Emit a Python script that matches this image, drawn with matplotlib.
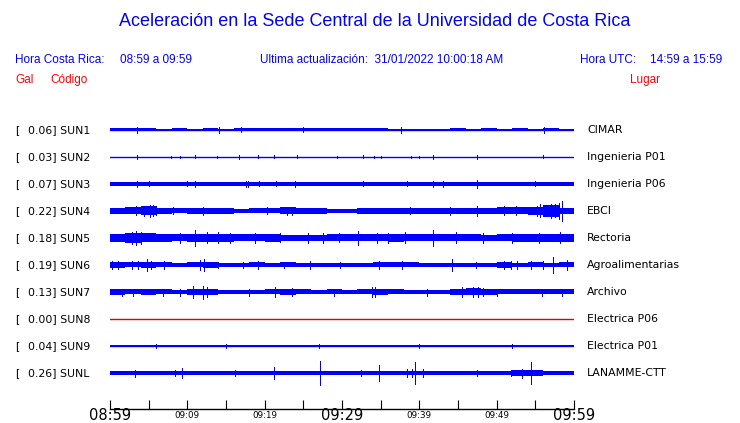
import numpy as np
import matplotlib
matplotlib.use("Agg")
import matplotlib.pyplot as plt
from matplotlib.transforms import blended_transform_factory

# Estaciones y valores máximos (gal)
codigos = ['SUN1', 'SUN2', 'SUN3', 'SUN4', 'SUN5', 'SUN6', 'SUN7', 'SUN8', 'SUN9', 'SUNL']
gal = [0.06, 0.03, 0.07, 0.22, 0.18, 0.19, 0.13, 0.00, 0.04, 0.26]
lugares = ['CIMAR', 'Ingenieria P01', 'Ingenieria P06', 'EBCI', 'Rectoria',
           'Agroalimentarias', 'Archivo', 'Electrica P06', 'Electrica P01', 'LANAMME-CTT']

# Envolvente de cada traza por tramos de 2 minutos (semiamplitud en px)
env = {
    'SUN1': [1.5, 1.5, 1.5, 1.4, 1.5, 0.8, 1.5, 1.0, 1.5, 1.5, 1.5, 1.5, 1.5, 1.5, 1.5,
             1.5, 1.5, 1.5, 1.0, 1.0, 1.0, 1.0, 1.5, 1.4, 1.5, 1.4, 1.5, 0.8, 1.5, 0.6],
    'SUN2': [0.0] * 30,
    'SUN3': [2.0, 1.9, 1.9, 1.9, 1.9, 1.9, 1.9, 1.9, 1.9, 1.9, 1.9, 1.9, 1.9, 1.9, 1.9,
             1.9, 1.9, 1.9, 1.9, 1.9, 1.9, 1.9, 1.9, 1.9, 1.9, 1.9, 1.9, 1.9, 1.9, 2.0],
    'SUN4': [3.0, 3.5, 4.5, 3.0, 2.5, 3.0, 3.0, 3.0, 2.2, 2.5, 2.5, 3.5, 3.0, 2.8, 2.2,
             2.2, 2.8, 3.0, 3.0, 3.0, 3.0, 3.0, 3.2, 3.3, 3.3, 3.5, 3.5, 4.0, 6.0, 3.0],
    'SUN5': [3.8, 4.8, 4.5, 3.8, 3.5, 4.0, 4.2, 3.8, 3.5, 3.5, 3.8, 3.4, 3.2, 3.2, 3.5,
             3.5, 3.5, 3.5, 3.8, 3.5, 3.5, 3.5, 3.5, 3.5, 3.4, 3.5, 4.0, 4.0, 4.0, 3.8],
    'SUN6': [3.0, 2.5, 2.8, 2.5, 2.0, 2.5, 3.0, 2.0, 2.0, 2.5, 2.2, 2.5, 2.2, 2.0, 2.0,
             2.2, 2.0, 2.5, 2.5, 2.5, 2.0, 2.0, 2.0, 2.0, 2.2, 2.8, 2.2, 2.5, 2.2, 2.5],
    'SUN7': [2.8, 2.5, 2.8, 2.5, 2.2, 3.0, 3.2, 2.2, 2.2, 2.2, 2.5, 2.8, 2.5, 2.2, 2.5,
             2.2, 2.5, 3.0, 2.5, 2.2, 2.2, 2.2, 3.0, 3.5, 2.8, 2.5, 2.5, 2.5, 2.5, 2.5],
    'SUN8': [0.0] * 30,
    'SUN9': [1.3, 1.3, 0.6, 1.3, 1.3, 1.3, 1.3, 1.3, 1.3, 1.3, 1.3, 1.3, 1.3, 1.3, 1.3,
             1.3, 1.3, 0.6, 1.3, 1.3, 1.3, 0.6, 1.3, 1.3, 1.3, 1.3, 1.3, 1.3, 1.3, 0.6],
    'SUNL': [2.2, 2.2, 2.0, 2.0, 2.0, 2.0, 2.0, 2.0, 2.0, 2.0, 2.0, 2.0, 2.0, 2.0, 2.0,
             2.0, 2.0, 2.2, 2.0, 2.0, 2.0, 2.0, 2.0, 2.0, 2.0, 2.0, 2.8, 2.8, 2.0, 2.0],
}

# Picos: (minuto desde 08:59, semiamplitud en px)
picos = {
    'SUN1': [(3.5, 3), (14.1, 3), (17.0, 2.5), (25.0, 2.5), (37.6, 3), (56.1, 3)],
    'SUN2': [(3.5, 1.8), (7.9, 1.2), (9.0, 1.2), (11.0, 1.5), (13.8, 1.2), (16.7, 1.8),
             (19.2, 1.5), (21.2, 1.5), (24.2, 1.5), (29.3, 1.2), (32.7, 1.5), (34.2, 1.2),
             (35.0, 1.2), (38.9, 1.2), (40.0, 1.2), (41.8, 1.8), (47.5, 1.8), (56.0, 1.5)],
    'SUN3': [(3.5, 2.8), (5.1, 2.5), (10.0, 2.5), (11.0, 2.8), (17.6, 3), (17.9, 2.8),
             (19.3, 2.5), (21.5, 2.5), (23.9, 2.8), (32.7, 2.5), (38.4, 2.5), (41.8, 3.2),
             (43.0, 2.8), (47.5, 4.0), (54.9, 2.5)],
    'SUN4': [(3.3, 4.5), (4.4, 5), (5.2, 6), (5.6, 5.5), (6.0, 4.5), (8.2, 3.5), (12.0, 4),
             (20.3, 3.5), (22.9, 4), (23.5, 4), (38.8, 3.5), (44.0, 4), (47.5, 5),
             (51.0, 4.5), (52.5, 4.5), (55.2, 5), (55.6, 6.5), (57.0, 7), (57.5, 6.5),
             (58.1, 8), (58.4, 10)],
    'SUN5': [(2.9, 6), (3.3, 7), (4.0, 6), (9.0, 5), (11.0, 8), (12.5, 5.5), (14.0, 5.5),
             (15.5, 5), (18.8, 5), (22.0, 4.5), (25.6, 5), (27.5, 5), (29.6, 4.5),
             (32.1, 7), (34.5, 5), (36.0, 5), (38.2, 5.5), (41.8, 8), (44.8, 5.5),
             (48.2, 5), (52.0, 5), (55.5, 5), (58.2, 5.5)],
    'SUN6': [(0.3, 4), (1.0, 3.5), (2.8, 3.5), (3.6, 3.5), (4.8, 6.5), (5.3, 4), (7.0, 3.5),
             (11.6, 4.5), (12.2, 6.5), (14.0, 3), (17.2, 3), (19.2, 4), (22.5, 3),
             (25.9, 4), (29.8, 3), (34.8, 4), (37.8, 4), (44.2, 6), (47.3, 3), (50.9, 3.5),
             (51.8, 4), (52.6, 3.5), (54.5, 3.5), (56.0, 3.5), (57.3, 8), (59.1, 5)],
    'SUN7': [(1.5, 3.5), (3.0, 3.5), (6.8, 3.5), (9.0, 3.5), (10.7, 6), (12.0, 6.5),
             (12.6, 5), (18.0, 3.5), (21.3, 5.5), (23.5, 4), (29.0, 3.5), (33.9, 5),
             (34.3, 4.5), (41.0, 3.5), (45.5, 4.5), (46.9, 4.5), (47.6, 4.5), (48.2, 4),
             (50.0, 3.5), (55.8, 3.5), (58.5, 3.5)],
    'SUN8': [],
    'SUN9': [(6.0, 1.6), (15.0, 1.6), (27.0, 1.6), (40.0, 1.6), (52.0, 1.6)],
    'SUNL': [(3.2, 3.5), (8.4, 3), (9.3, 5), (16.2, 3), (21.2, 6), (27.2, 12), (32.5, 3),
             (34.8, 8), (38.4, 4), (39.0, 4), (39.5, 11), (40.5, 4), (47.5, 3), (51.8, 3),
             (53.3, 4.5), (54.5, 11)],
}

tramos = np.arange(0, 62, 2)
ticks_grandes = [0, 30, 60]
labels_grandes = ['08:59', '09:29', '09:59']
ticks_chicos = [5, 10, 15, 20, 25, 35, 40, 45, 50, 55]
labels_chicos = ['', '09:09', '', '09:19', '', '', '09:39', '', '09:49', '']

W, H = 740, 423
SEP = 27.0  # px entre trazas
AZUL = '#0000ff'
ROJO = '#ff0000'

fig = plt.figure(figsize=(W / 100, H / 100), dpi=100)

# Encabezado
fig.text(375 / W, 1 - 22 / H, 'Aceleración en la Sede Central de la Universidad de Costa Rica',
         ha='center', va='center', color=AZUL, fontsize=13, family='Liberation Sans')
enc = dict(va='center', color=AZUL, fontsize=8.5, family='Liberation Sans')
fig.text(15 / W, 1 - 60 / H, 'Hora Costa Rica:', **enc)
fig.text(120 / W, 1 - 60 / H, '08:59 a 09:59', **enc)
fig.text(260 / W, 1 - 60 / H, 'Ultima actualización:  31/01/2022 10:00:18 AM', **enc)
fig.text(580 / W, 1 - 60 / H, 'Hora UTC:', **enc)
fig.text(650 / W, 1 - 60 / H, '14:59 a 15:59', **enc)
enc['color'] = ROJO
fig.text(15 / W, 1 - 80 / H, 'Gal', **enc)
fig.text(50 / W, 1 - 80 / H, 'Código', **enc)
fig.text(630 / W, 1 - 80 / H, 'Lugar', **enc)

# Trazas
ax = fig.add_axes([110 / W, 1 - 400 / H, 464 / W, 283.5 / H])
ax.set_xlim(0, 60)
ax.set_ylim(10, -0.5)
ax.axis('off')

for i, cod in enumerate(codigos):
    if gal[i] == 0:
        ax.plot([0, 60], [i, i], color='#e00000', lw=1.0)
        continue
    e = np.array(env[cod] + [env[cod][-1]]) / SEP
    if e.max() > 0:
        ax.fill_between(tramos, i - e, i + e, step='post', color=AZUL, lw=0, antialiased=False)
    ax.plot([0, 60], [i, i], color=AZUL, lw=1.0)
    for t, a in picos[cod]:
        ax.vlines(t, i - a / SEP, i + a / SEP, color=AZUL, lw=0.6, antialiased=False)

trans = blended_transform_factory(fig.transFigure, ax.transData)
for i, cod in enumerate(codigos):
    fig.text(15 / W, i, '[', transform=trans, va='center', fontsize=7.8)
    fig.text(28 / W, i, '%.2f] %s' % (gal[i], cod), transform=trans, va='center', fontsize=7.8)
    fig.text(587 / W, i, lugares[i], transform=trans, va='center', fontsize=7.8)

# Eje de tiempo
tax = fig.add_axes([110 / W, 1 - 409 / H, 464 / W, 0.0001])
tax.set_xlim(0, 60)
for s in ['top', 'left', 'right']:
    tax.spines[s].set_visible(False)
tax.spines['bottom'].set_linewidth(1.0)
tax.set_yticks([])
tax.set_xticks(ticks_grandes)
tax.set_xticklabels(labels_grandes, fontsize=10.5)
tax.set_xticks(ticks_chicos, minor=True)
tax.set_xticklabels(labels_chicos, minor=True, fontsize=6.3)
tax.tick_params(axis='x', which='major', direction='in', length=6.5, width=0.8, pad=-1)
tax.tick_params(axis='x', which='minor', direction='in', length=6.5, width=0.8, pad=1.5)

fig.savefig('out.png', dpi=100)
